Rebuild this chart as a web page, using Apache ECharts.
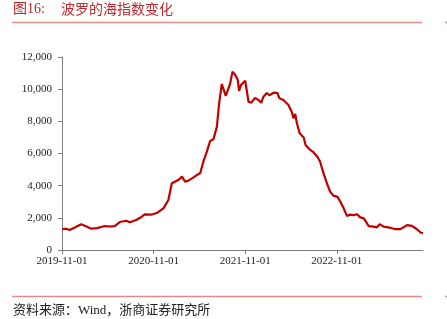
<!DOCTYPE html>
<html>
<head>
<meta charset="utf-8">
<script src="https://cdn.jsdelivr.net/npm/echarts@6/dist/echarts.min.js"></script>
<style>html,body{margin:0;padding:0;background:#fff;}#c{width:447px;height:319px;}</style>
</head>
<body>
<div id="c"></div>
<script>
var dates = ['2019-11-01','2019-11-17','2019-12-01','2019-12-22','2020-01-17','2020-02-05','2020-02-25','2020-03-19','2020-04-19','2020-05-10','2020-05-29','2020-06-18','2020-07-14','2020-07-28','2020-08-23','2020-09-08','2020-09-26','2020-10-22','2020-11-16','2020-12-10','2020-12-30','2021-01-13','2021-01-19','2021-02-02','2021-02-11','2021-02-21','2021-03-05','2021-03-18','2021-04-02','2021-04-21','2021-05-04','2021-05-17','2021-05-31','2021-06-13','2021-06-26','2021-07-10','2021-07-19','2021-07-30','2021-08-06','2021-08-15','2021-08-26','2021-09-02','2021-09-11','2021-09-22','2021-10-02','2021-10-07','2021-10-15','2021-10-22','2021-11-01','2021-11-14','2021-11-25','2021-12-10','2021-12-22','2022-01-04','2022-01-13','2022-01-27','2022-02-06','2022-02-21','2022-03-08','2022-03-16','2022-04-01','2022-04-21','2022-05-05','2022-05-11','2022-05-18','2022-05-25','2022-06-05','2022-06-21','2022-06-28','2022-07-17','2022-07-30','2022-08-15','2022-08-26','2022-09-06','2022-09-22','2022-10-05','2022-10-18','2022-11-04','2022-11-15','2022-11-28','2022-12-11','2022-12-24','2023-01-07','2023-01-21','2023-02-03','2023-02-16','2023-02-26','2023-03-06','2023-03-26','2023-04-09','2023-04-19','2023-05-05','2023-05-25','2023-06-08','2023-06-21','2023-07-11','2023-07-24','2023-08-07','2023-08-27','2023-09-16','2023-09-30','2023-10-10'];
var bdi = [1290,1320,1245,1400,1600,1480,1325,1360,1490,1460,1490,1740,1820,1720,1865,2000,2220,2195,2320,2590,3110,4150,4250,4310,4400,4560,4250,4310,4450,4660,4770,5490,6100,6780,6880,7670,9120,10320,10360,9580,10050,10360,11090,10880,10570,9900,10260,10200,10530,9220,9160,9450,9350,9150,9530,9760,9620,9780,9750,9430,9330,9020,8550,8190,8460,7880,7260,7000,6530,6220,6080,5800,5500,4900,4150,3630,3380,3300,3000,2590,2120,2200,2170,2220,2030,1970,1700,1490,1450,1410,1610,1450,1410,1350,1300,1300,1410,1550,1500,1290,1090,1040];
var xTickLabels = ['2019-11-01','2020-11-01','2021-11-01','2022-11-01'];
var yTicks = [0,2000,4000,6000,8000,10000,12000];

function monthOffset(s){
  var p = s.split('-').map(Number);
  var dim = new Date(p[0], p[1], 0).getDate();
  return (p[0]-2019)*12 + (p[1]-11) + (p[2]-1)/dim;
}
var seriesData = dates.map(function(d,i){ return [monthOffset(d), bdi[i]]; });
var xMax = monthOffset(dates[dates.length-1]);

var chart = echarts.init(document.getElementById('c'));
var red = '#c00000';
var lineRed = '#e08a8a';
chart.setOption({
  animation: false,
  backgroundColor: '#fff',
  grid: {left: 62, right: 24, top: 57, bottom: 69, containLabel: false},
  xAxis: {
    type: 'value', min: 0, max: xMax, interval: 12,
    splitLine: {show: false},
    axisLine: {lineStyle: {color: '#7f7f7f', width: 1}},
    axisTick: {length: 4, lineStyle: {color: '#7f7f7f'}},
    axisLabel: {
      showMaxLabel: false, margin: 6,
      fontFamily: 'Liberation Serif', fontSize: 11, color: '#222',
      formatter: function(v){ var i = Math.round(v/12); return (Math.abs(v - i*12) < 1e-6 && xTickLabels[i]) ? xTickLabels[i] : ''; }
    }
  },
  yAxis: {
    type: 'value', min: yTicks[0], max: yTicks[yTicks.length-1], interval: 2000,
    splitLine: {show: false},
    axisLine: {show: true, lineStyle: {color: '#7f7f7f', width: 1}},
    axisTick: {show: true, length: 4, lineStyle: {color: '#7f7f7f'}},
    axisLabel: {
      margin: 10, fontFamily: 'Liberation Serif', fontSize: 11, color: '#222',
      formatter: function(v){ return v.toLocaleString('en-US'); }
    }
  },
  series: [{
    type: 'line', data: seriesData, showSymbol: false, smooth: false,
    lineStyle: {color: red, width: 2.2}
  }],
  graphic: [
    {type: 'text', left: 13, top: 2, style: {text: '图16:', fontFamily: 'Liberation Serif, Noto Sans CJK SC', fontSize: 14, fill: '#b3262a'}},
    {type: 'text', left: 61, top: 2, style: {text: '波罗的海指数变化', fontFamily: 'Noto Sans CJK SC', fontSize: 14, fill: '#c0282d'}},
    {type: 'line', shape: {x1: 12, y1: 22.5, x2: 422, y2: 22.5}, style: {stroke: lineRed, lineWidth: 1.5}},
    {type: 'line', shape: {x1: 445, y1: 22.5, x2: 447, y2: 22.5}, style: {stroke: lineRed, lineWidth: 1.5}},
    {type: 'line', shape: {x1: 12, y1: 296.5, x2: 422, y2: 296.5}, style: {stroke: lineRed, lineWidth: 1.5}},
    {type: 'line', shape: {x1: 445, y1: 296.5, x2: 447, y2: 296.5}, style: {stroke: lineRed, lineWidth: 1.5}},
    {type: 'text', left: 13, top: 304, style: {text: '资料来源：Wind，浙商证券研究所', fontFamily: 'Liberation Serif, Noto Sans CJK SC', fontSize: 13, fill: '#222'}}
  ]
});
</script>
</body>
</html>
